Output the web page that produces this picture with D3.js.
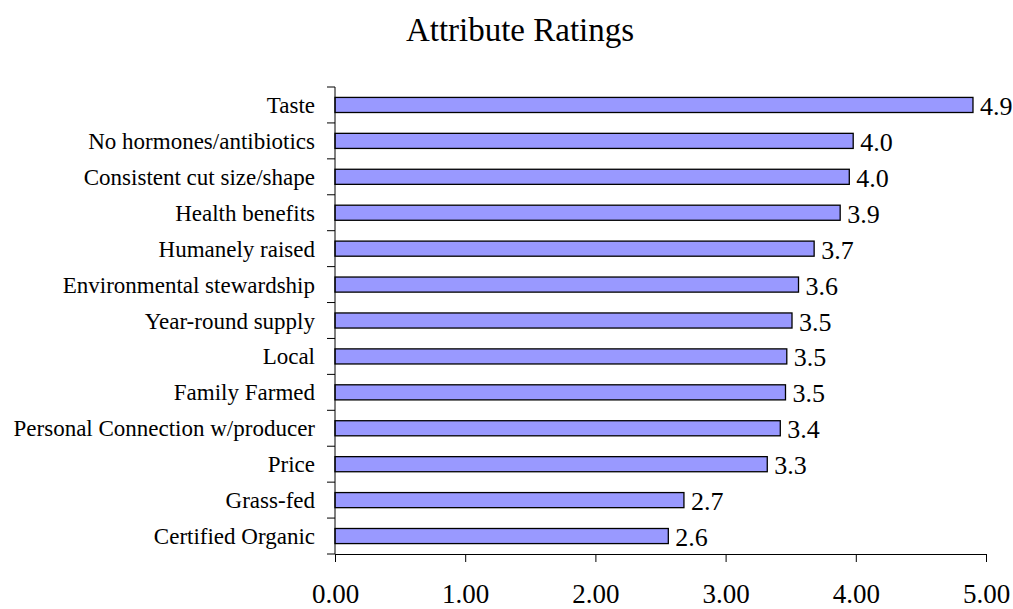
<!DOCTYPE html>
<html>
<head>
<meta charset="utf-8">
<title>Attribute Ratings</title>
<script src="https://d3js.org/d3.v7.min.js"></script>
<style>
  body { margin: 0; background: #fff; }
  text { font-family: "Liberation Serif", "Times New Roman", serif; fill: #000; }
</style>
</head>
<body>
<script>
// data
var attributes = ["Taste", "No hormones/antibiotics", "Consistent cut size/shape",
  "Health benefits", "Humanely raised", "Environmental stewardship",
  "Year-round supply", "Local", "Family Farmed", "Personal Connection w/producer",
  "Price", "Grass-fed", "Certified Organic"];
var ratings = [4.9, 3.98, 3.95, 3.88, 3.68, 3.56, 3.51, 3.47, 3.46, 3.42, 3.32, 2.68, 2.56];
var xTicks = [0, 1, 2, 3, 4, 5];

var W = 1013, H = 609;
var plotLeft = 335, plotRight = 986, plotTop = 87, plotBottom = 554;

var svg = d3.select("body").append("svg")
  .attr("width", W)
  .attr("height", H);

var x = d3.scaleLinear().domain([0, 5]).range([plotLeft, plotRight]);
var y = d3.scaleBand().domain(attributes).range([plotTop, plotBottom]).paddingInner(0.58).paddingOuter(0.29);

// title
svg.append("text")
  .attr("x", 520)
  .attr("y", 41)
  .attr("text-anchor", "middle")
  .style("font-size", "33px")
  .text("Attribute Ratings");

// bars
svg.selectAll("rect.bar")
  .data(attributes)
  .enter()
  .append("rect")
  .attr("class", "bar")
  .attr("x", x(0))
  .attr("y", function(d) { return y(d); })
  .attr("width", function(d, i) { return x(ratings[i]) - x(0); })
  .attr("height", y.bandwidth())
  .attr("fill", "#9999ff")
  .attr("stroke", "#000")
  .attr("stroke-width", 1.3);

// value labels
svg.selectAll("text.val")
  .data(attributes)
  .enter()
  .append("text")
  .attr("class", "val")
  .attr("x", function(d, i) { return x(ratings[i]) + 7; })
  .attr("y", function(d) { return y(d) + y.bandwidth() / 2 + 10; })
  .style("font-size", "26px")
  .text(function(d, i) { return d3.format(".1f")(ratings[i]); });

// x axis
var xAxis = d3.axisBottom(x)
  .tickValues(xTicks)
  .tickFormat(d3.format(".2f"))
  .tickSizeInner(8)
  .tickSizeOuter(0)
  .tickPadding(22);
var gx = svg.append("g")
  .attr("transform", "translate(0," + plotBottom + ")")
  .call(xAxis);
gx.selectAll("text").style("font-size", "27px").style("font-family", "Liberation Serif");
gx.selectAll("path, line").attr("stroke", "#000");

// y axis: Excel-style ticks between categories
var n = attributes.length;
var bounds = d3.range(n + 1).map(function(i) { return plotTop + i * (plotBottom - plotTop) / n; });
var gy = svg.append("g");
gy.append("line")
  .attr("x1", plotLeft).attr("x2", plotLeft)
  .attr("y1", plotTop).attr("y2", plotBottom)
  .attr("stroke", "#000");
gy.selectAll("line.tick")
  .data(bounds)
  .enter()
  .append("line")
  .attr("class", "tick")
  .attr("x1", plotLeft - 8).attr("x2", plotLeft)
  .attr("y1", function(d) { return d; })
  .attr("y2", function(d) { return d; })
  .attr("stroke", "#000");
gy.selectAll("text")
  .data(attributes)
  .enter()
  .append("text")
  .attr("x", plotLeft - 20)
  .attr("y", function(d) { return y(d) + y.bandwidth() / 2 + 8; })
  .attr("text-anchor", "end")
  .style("font-size", "23px")
  .text(function(d) { return d; });
</script>
</body>
</html>
